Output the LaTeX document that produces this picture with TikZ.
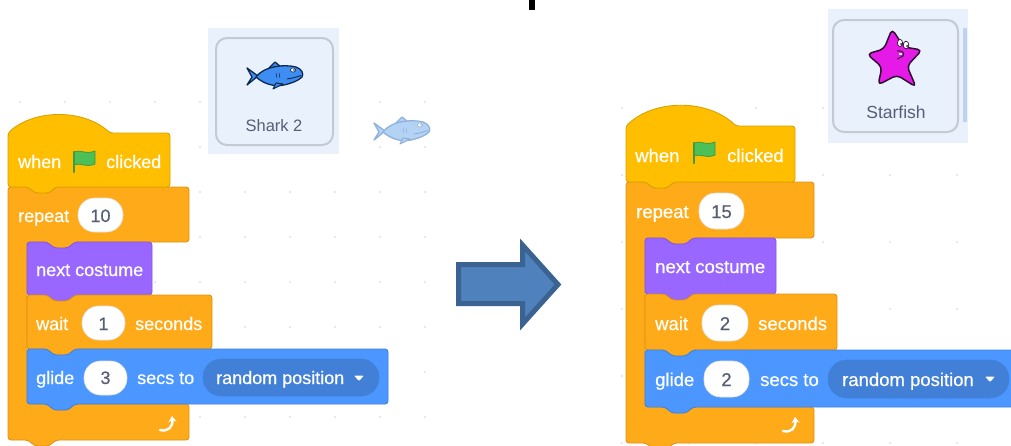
\documentclass[tikz,border=0pt]{standalone}
\usepackage{fontspec}
\setmainfont{Liberation Sans}
\newfontfamily\blkfont{Liberation Sans}[FakeBold=0.5]
\usetikzlibrary{arrows.meta}

\definecolor{evt}{HTML}{FFBF00}
\definecolor{evtd}{HTML}{D9A300}
\definecolor{ctl}{HTML}{FFAB19}
\definecolor{ctld}{HTML}{DE9418}
\definecolor{look}{HTML}{9966FF}
\definecolor{lookd}{HTML}{8456E6}
\definecolor{mot}{HTML}{4C97FF}
\definecolor{motd}{HTML}{3F82E0}
\definecolor{pill}{HTML}{4280D7}
\definecolor{numtxt}{HTML}{575E75}
\definecolor{pane}{HTML}{E9F1FC}
\definecolor{panebar}{HTML}{BED2F0}
\definecolor{cardline}{HTML}{C4CAD3}
\definecolor{dotgray}{HTML}{E2E2E2}
\definecolor{flaggreen}{HTML}{4CBF56}
\definecolor{flagdark}{HTML}{3D9A45}
\definecolor{arrfill}{HTML}{4F81BD}
\definecolor{arrline}{HTML}{3B6392}
\definecolor{sharkblue}{HTML}{3D8DF2}
\definecolor{sharkdark}{HTML}{0E2A50}
\definecolor{ghostfill}{HTML}{B3D2F4}
\definecolor{ghostline}{HTML}{8FB2DA}
\definecolor{starmag}{HTML}{E61AE6}
\definecolor{stardark}{HTML}{2B1030}

% stack block: x0, y0, x1, y1, fill, stroke
\newcommand{\stackblk}[6]{%
  \filldraw[fill=#5,draw=#6,line width=0.9pt,rounded corners=3pt]
    (#1,#2) -- ({#1+20},#2) -- ({#1+27},{#2+6}) -- ({#1+41},{#2+6}) -- ({#1+48},#2)
    -- (#3,#2) -- (#3,#4) -- ({#1+48},#4) -- ({#1+41},{#4+6}) -- ({#1+27},{#4+6})
    -- ({#1+20},#4) -- (#1,#4) -- cycle;}

% hat block: x0, body top, x1, y1, fill, stroke, cap width, cap control height
\newcommand{\hatblk}[8]{%
  \filldraw[fill=#5,draw=#6,line width=0.9pt,rounded corners=3pt]
    (#1,#2) .. controls ({#1+0.26*#7},{#2-#8}) and ({#1+0.74*#7},{#2-#8}) .. ({#1+#7},#2)
    -- (#3,#2) -- (#3,#4) -- ({#1+48},#4) -- ({#1+41},{#4+6}) -- ({#1+27},{#4+6})
    -- ({#1+20},#4) -- (#1,#4) -- cycle;}

% C block: x0, y0, x1, arm bottom, inner x, lower arm top, y1, fill, stroke
\newcommand{\cblk}[9]{%
  \filldraw[fill=#8,draw=#9,line width=0.9pt,rounded corners=3pt]
    (#1,#2) -- ({#1+20},#2) -- ({#1+27},{#2+6}) -- ({#1+41},{#2+6}) -- ({#1+48},#2)
    -- (#3,#2) -- (#3,#4) -- ({#5+48},#4) -- ({#5+41},{#4+6}) -- ({#5+27},{#4+6})
    -- ({#5+20},#4) -- (#5,#4) -- (#5,#6) -- ({#5+20},#6) -- ({#5+27},{#6+6})
    -- ({#5+41},{#6+6}) -- ({#5+48},#6) -- (#3,#6) -- (#3,#7) -- ({#1+48},#7)
    -- ({#1+41},{#7+6}) -- ({#1+27},{#7+6}) -- ({#1+20},#7) -- (#1,#7) -- cycle;}

% white number field: x0, y0, x1, y1
\newcommand{\numfield}[4]{%
  \filldraw[fill=white,draw=black!12,line width=0.6pt,rounded corners=16.5pt] (#1,#2) rectangle (#3,#4);}

% green flag: pole top x, y
\newcommand{\gflag}[2]{%
  \filldraw[fill=flaggreen,draw=flagdark,line width=0.8pt,line join=round]
    (#1,#2) .. controls ({#1+6},{#2-3}) and ({#1+12},{#2+3}) .. ({#1+21},{#2-1})
    -- ({#1+21},{#2+12}) .. controls ({#1+12},{#2+16}) and ({#1+6},{#2+10}) .. (#1,{#2+13}) -- cycle;
  \draw[flagdark,line width=2.4pt,line cap=round] (#1,#2) -- (#1,{#2+20});}

% loop arrow of the repeat block: centre x, y
\newcommand{\looparrow}[2]{%
  \draw[white,line width=2.4pt,line cap=round,-{Stealth[length=6pt,width=8pt]}]
    ({#1-10},{#2+6}) .. controls ({#1-2},{#2+8}) and ({#1+3},{#2+3}) .. ({#1+2},{#2-8});}

% dropdown triangle: centre x, y
\newcommand{\droptri}[2]{%
  \fill[white,rounded corners=1pt] ({#1-5},{#2-2.5}) -- ({#1+5},{#2-2.5}) -- (#1,{#2+3}) -- cycle;}

% shark sprite: centre x, y, fill, outline
\newcommand{\sharkshape}[4]{%
  \begin{scope}[shift={(#1,#2)},line join=round]
    \filldraw[fill=#3,draw=#4,line width=1.3pt] (-16,0) -- (-27,-8) .. controls (-24,-3) .. (-22,1)
      .. controls (-25,5) .. (-27,9) -- cycle;
    \filldraw[fill=#3,draw=#4,line width=1.3pt] (-5,-8) -- (1,-14) -- (7,-9) -- cycle;
    \filldraw[fill=#3,draw=#4,line width=1.3pt] (-18,1) .. controls (-10,-10) and (10,-12) .. (22,-9)
      .. controls (28,-7) and (30,-2) .. (28,1) .. controls (24,5) and (18,7) .. (10,9)
      .. controls (0,11) and (-10,8) .. (-18,1) -- cycle;
    \filldraw[fill=#3,draw=#4,line width=1.1pt] (2,7) -- (-1,13) -- (9,8) -- cycle;
    \filldraw[fill=white,draw=#4,line width=0.6pt] (19,-6) ellipse (2.6 and 2.1);
    \fill[#4] (20,-6) circle (0.9);
    \draw[#4,line width=0.9pt] (13,3) .. controls (19,2) .. (27,-0.5);
    \draw[#4,line width=0.5pt] (2,-3) -- (3,2) (5,-3) -- (6,2);
  \end{scope}}

\tikzset{
  lbl/.style={inner sep=0pt,anchor=base west,text=white,font=\blkfont\fontsize{18}{20}\selectfont},
  lblR/.style={lbl,font=\blkfont\fontsize{18.5}{20}\selectfont},
  numlbl/.style={inner sep=0pt,anchor=base,text=numtxt,font=\blkfont\fontsize{18}{20}\selectfont},
  numlblR/.style={numlbl,font=\blkfont\fontsize{18.5}{20}\selectfont},
  cardlbl/.style={inner sep=0pt,text=numtxt}
}

\begin{document}
\begin{tikzpicture}[x=1pt,y=-1pt]
\useasboundingbox (0,0) rectangle (1011,445);
\clip (0,0) rectangle (1011,445);
\fill[white] (0,0) rectangle (1011,445);

% workspace grid dots
\foreach \i in {0,...,9} \foreach \j in {0,...,7}
  \fill[dotgray] ({20+45*\i},{102+45*\j}) circle (1.1);
\foreach \i in {0,...,5} \foreach \j in {0,...,5}
  \fill[dotgray] ({622+67*\i},{108+67*\j}) circle (1.1);

% stem of a heading letter at the top edge
\fill[black] (529,0) rectangle (535,10);

% ---------- left sprite card ----------
\fill[pane] (208,28) rectangle (339,154);
\draw[cardline,line width=2pt,rounded corners=11pt,fill=pane] (216,38) rectangle (333,145);
\sharkshape{274}{76}{sharkblue}{sharkdark}
\node[cardlbl,font=\fontsize{16.5}{18}\selectfont] (sharkname) at (274,126) {Shark 2};
\sharkshape{401}{131}{ghostfill}{ghostline}

% ---------- left script ----------
\cblk{8}{187}{189}{242}{27}{404}{440}{ctl}{ctld}
\stackblk{27}{242}{152}{295}{look}{lookd}
\stackblk{27}{295}{212}{349}{ctl}{ctld}
\stackblk{27}{349}{388}{404}{mot}{motd}
\hatblk{8}{133}{170}{187}{evt}{evtd}{102}{24}

\node[lbl] (lwhen) at (18,168) {when};
\gflag{74}{152}
\node[lbl] (lclicked) at (106,168) {clicked};

\node[lbl] (lrepeat) at (18,222) {repeat};
\numfield{78}{198}{123}{232}
\node[numlbl] (lten) at (100.5,222) {10};

\node[lbl] (lnext) at (36,276) {next costume};

\node[lbl] (lwait) at (36,330) {wait};
\numfield{82}{306}{125}{340}
\node[numlbl] (lone) at (103.5,330) {1};
\node[lbl] (lsec) at (135,330) {seconds};

\node[lbl] (lglide) at (36,384) {glide};
\numfield{84}{361}{127}{395}
\node[numlbl] (lthree) at (105.5,384) {3};
\node[lbl] (lsecsto) at (137,384) {secs to};
\filldraw[fill=pill,draw=motd,line width=0.6pt,rounded corners=18pt] (203,359) rectangle (379,396);
\node[lbl] (lrand) at (216,384) {random position};
\droptri{359}{378}

\looparrow{170}{424}

% ---------- arrow ----------
\filldraw[fill=arrfill,draw=arrline,line width=5pt,miter limit=10]
  (458.5,264.5) -- (522.5,264.5) -- (522.5,245) -- (558,284.5) -- (522.5,324)
  -- (522.5,303.5) -- (458.5,303.5) -- cycle;

% ---------- right sprite card ----------
\fill[pane] (828,9) rectangle (968,143);
\fill[panebar] (963,28) rectangle (967,122);
\draw[cardline,line width=2pt,rounded corners=11pt,fill=pane] (833,20) rectangle (958,132);
\begin{scope}[shift={(895,60)},line join=round]
  \filldraw[fill=starmag,draw=stardark,line width=1.5pt,rounded corners=4.5pt]
    (-3,-31) -- (9,-13) -- (27,-10) -- (12,6) -- (21,27) -- (2,15) -- (-17,25)
    -- (-13,7) -- (-28,-6) -- (-11,-11) -- cycle;
  \filldraw[fill=white,draw=stardark,line width=0.7pt] (5,-17) ellipse (2.6 and 3.6);
  \filldraw[fill=white,draw=stardark,line width=0.7pt] (11,-15) ellipse (2.8 and 3.8);
  \fill[stardark] (6,-16) circle (1) (12,-14) circle (1);
  \draw[stardark,line width=1pt] (2,-9) .. controls (7,-10) and (10,-7) .. (8,-4)
    .. controls (6,-1) and (3,-3) .. (2,-1);
  \fill[white] (4,-7) rectangle (7,-5);
\end{scope}
\node[cardlbl,font=\fontsize{17.5}{19}\selectfont] (starname) at (896,112) {Starfish};

% ---------- right script ----------
\cblk{626}{182}{814}{238}{645}{407}{443}{ctl}{ctld}
\stackblk{645}{238}{776}{294}{look}{lookd}
\stackblk{645}{294}{837}{350}{ctl}{ctld}
\stackblk{645}{350}{1030}{407}{mot}{motd}
\hatblk{626}{126}{795}{182}{evt}{evtd}{110}{27}

\node[lblR] (rwhen) at (635,162) {when};
\gflag{694}{143}
\node[lblR] (rclicked) at (727,162) {clicked};

\node[lblR] (rrepeat) at (636,218) {repeat};
\numfield{699}{193}{744}{229}
\node[numlblR] (rfifteen) at (721.5,218) {15};

\node[lblR] (rnext) at (655,273) {next costume};

\node[lblR] (rwait) at (655,330) {wait};
\numfield{702}{305}{748}{341}
\node[numlblR] (rtwoa) at (725,330) {2};
\node[lblR] (rsec) at (758,330) {seconds};

\node[lblR] (rglide) at (655,386) {glide};
\numfield{704}{361}{749}{397}
\node[numlblR] (rtwob) at (726.5,386) {2};
\node[lblR] (rsecsto) at (760,386) {secs to};
\filldraw[fill=pill,draw=motd,line width=0.6pt,rounded corners=18.5pt] (828,360) rectangle (1009,398);
\node[lblR] (rrand) at (842,386) {random position};
\droptri{990}{379}

\looparrow{793}{425}
\end{tikzpicture}
\end{document}
